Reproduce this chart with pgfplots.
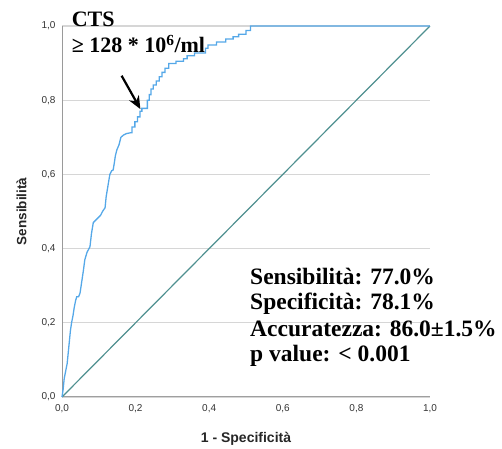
\documentclass[border=0pt]{standalone}
\usepackage{fontspec}
\setmainfont{Liberation Serif}
\setsansfont{Liberation Sans}
\usepackage{pgfplots}
\pgfplotsset{compat=1.18}
\usetikzlibrary{arrows.meta}
\definecolor{roc}{HTML}{55A8E8}
\definecolor{diag}{HTML}{4F9090}
\definecolor{gridc}{HTML}{D6D6D6}
\definecolor{axc}{HTML}{9A9A9A}
\definecolor{tickc}{HTML}{333333}
\begin{document}
\begin{tikzpicture}
\begin{axis}[
  scale only axis, width=368pt, height=371pt,
  xmin=0, xmax=1, ymin=0, ymax=1,
  enlargelimits=false, clip=false,
  axis x line=bottom, axis y line=left,
  axis line style={axc, line width=1pt, -},
  x axis line style={color=gray!75},
  major tick length=0pt,
  xtick={0,0.2,0.4,0.6,0.8,1}, ytick={0,0.2,0.4,0.6,0.8,1},
  xticklabels={{0,0},{0,2},{0,4},{0,6},{0,8},{1,0}},
  yticklabels={{0,0},{0,2},{0,4},{0,6},{0,8},{1,0}},
  ticklabel style={font=\sffamily\fontsize{10}{12}\selectfont, text=tickc},
  xticklabel style={yshift=-4pt},
  yticklabel style={xshift=-3pt},
  ymajorgrids, grid style={gridc, line width=1.2pt},
  xlabel={1 - Specificità}, ylabel={Sensibilità},
  xlabel style={at={(rel axis cs:0.5,-0.1132)}, anchor=center, font=\sffamily\bfseries\fontsize{14}{16}\selectfont, text=black!85},
  ylabel style={at={(rel axis cs:-0.110,0.5)}, anchor=center, font=\sffamily\bfseries\fontsize{13.5}{16}\selectfont, text=black!85},
]
\addplot[diag, line width=1.2pt] coordinates {(0,0) (1,1)};
\addplot[roc, line width=1.3pt] coordinates {
(0,0) (0.003,0.02) (0.006,0.05) (0.010,0.07) (0.014,0.09) (0.017,0.12)
(0.020,0.15) (0.023,0.18) (0.026,0.20) (0.030,0.22) (0.033,0.24) (0.037,0.26)
(0.040,0.27) (0.045,0.27) (0.049,0.28) (0.052,0.30) (0.055,0.32) (0.058,0.34)
(0.062,0.37) (0.068,0.39) (0.076,0.405) (0.080,0.44) (0.085,0.47) (0.090,0.475)
(0.095,0.48) (0.100,0.485) (0.105,0.49) (0.110,0.50) (0.117,0.51) (0.120,0.54)
(0.125,0.57) (0.130,0.60) (0.135,0.61) (0.139,0.612) (0.142,0.63) (0.145,0.65)
(0.149,0.666) (0.155,0.68) (0.160,0.70) (0.167,0.706) (0.175,0.71) (0.185,0.712)
(0.19,0.712) (0.19,0.728) (0.198,0.728) (0.198,0.742) (0.205,0.742) (0.205,0.755)
(0.212,0.755) (0.212,0.77) (0.217,0.77) (0.217,0.778) (0.232,0.778) (0.232,0.80)
(0.237,0.80) (0.237,0.815) (0.242,0.815) (0.242,0.83) (0.248,0.83) (0.248,0.841)
(0.256,0.841) (0.256,0.852) (0.264,0.852) (0.264,0.863) (0.272,0.863) (0.272,0.875)
(0.28,0.875) (0.28,0.886) (0.29,0.886) (0.29,0.899) (0.31,0.899) (0.31,0.905)
(0.33,0.905) (0.33,0.912) (0.34,0.912) (0.34,0.92) (0.36,0.92) (0.36,0.927)
(0.39,0.927) (0.39,0.94) (0.397,0.94) (0.397,0.949) (0.42,0.949) (0.42,0.957)
(0.445,0.957) (0.445,0.965) (0.465,0.965) (0.465,0.971) (0.48,0.971) (0.48,0.978)
(0.50,0.978) (0.50,0.988) (0.512,0.988) (0.512,1.0) (1,1)
};
\draw[-{Stealth[length=13pt,width=11pt]}, line width=2.2pt, black]
  (axis cs:0.162,0.866) -- (axis cs:0.213,0.776);
\node[anchor=base west, inner sep=0pt, font=\bfseries\fontsize{22}{24}\selectfont] at (axis cs:0.026,1.0) {CTS};
\node[anchor=base west, inner sep=0pt, font=\bfseries\fontsize{22}{24}\selectfont] at (axis cs:0.026,0.928) {≥ 128 * 10\textsuperscript{6}/ml};
\node[anchor=base west, inner sep=0pt, font=\bfseries\fontsize{23.5}{26}\selectfont] at (axis cs:0.511,0.304) {Sensibilità: 77.0\%};
\node[anchor=base west, inner sep=0pt, font=\bfseries\fontsize{23.5}{26}\selectfont] at (axis cs:0.511,0.2345) {Specificità: 78.1\%};
\node[anchor=base west, inner sep=0pt, font=\bfseries\fontsize{23.5}{26}\selectfont] at (axis cs:0.511,0.1625) {Accuratezza: 86.0±1.5\%};
\node[anchor=base west, inner sep=0pt, font=\bfseries\fontsize{23.5}{26}\selectfont] at (axis cs:0.511,0.095) {p value: < 0.001};
\coordinate (bbA) at (rel axis cs:-0.1685,-0.1321);
\coordinate (bbB) at (rel axis cs:1.1957,1.0701);
\end{axis}
\useasboundingbox (bbA) rectangle (bbB);
\end{tikzpicture}
\end{document}
